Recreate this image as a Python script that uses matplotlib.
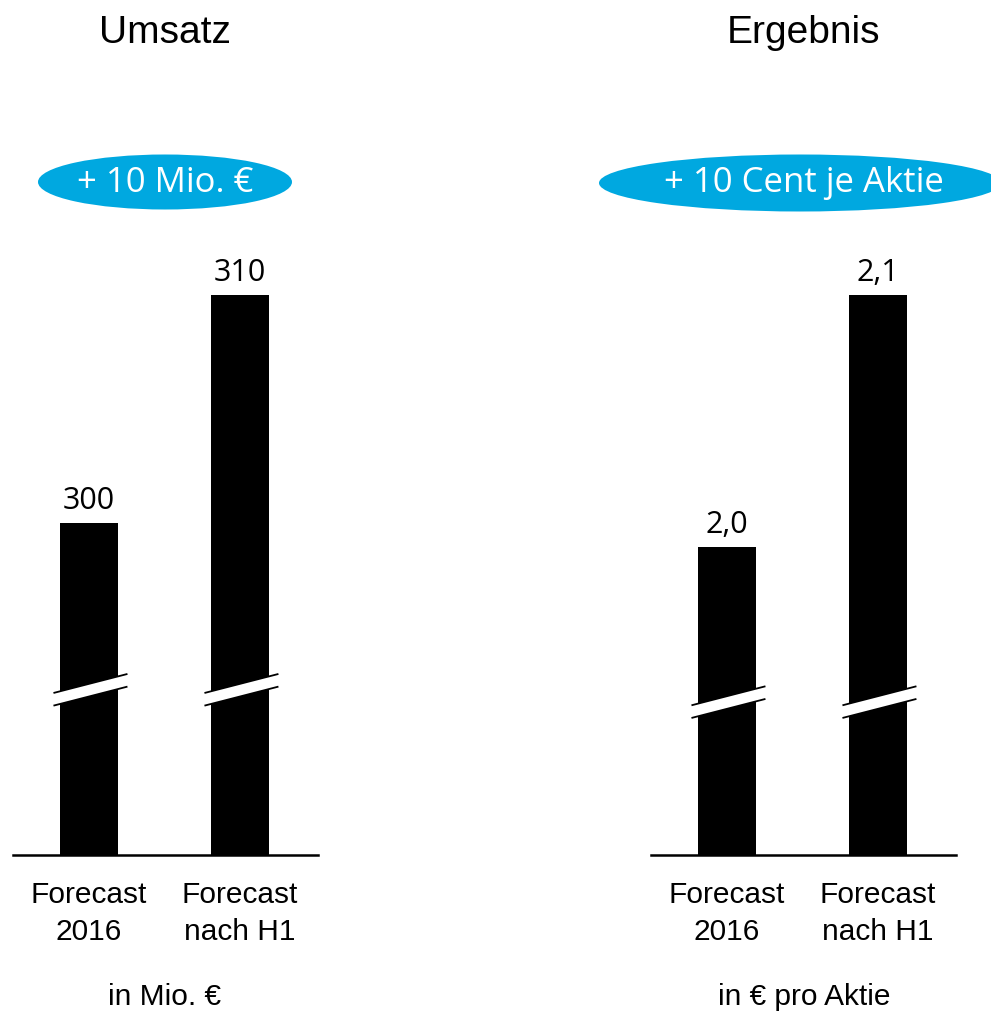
import matplotlib
matplotlib.use("Agg")
import matplotlib.pyplot as plt
from matplotlib.patches import Ellipse, Polygon
from matplotlib.transforms import blended_transform_factory

# ---- data ----
categories = ["Forecast\n2016", "Forecast\nnach H1"]
umsatz_values = [300, 310]
umsatz_labels = ["300", "310"]
ergebnis_values = [2.0, 2.1]
ergebnis_labels = ["2,0", "2,1"]
titles = ["Umsatz", "Ergebnis"]
badges = ["+ 10 Mio. \u20ac", "+ 10 Cent je Aktie"]
units = ["in Mio. \u20ac", "in \u20ac pro Aktie"]

# ---- style ----
W, H = 991, 1013
NARROW = ["Liberation Sans Narrow", "Liberation Sans", "DejaVu Sans"]
ROUND = ["Open Sans", "DejaVu Sans"]
BLUE = "#00A8E0"

fig = plt.figure(figsize=(W / 100, H / 100), dpi=100)

def px_axes(x0, x1, ytop, ybot):
    return fig.add_axes([x0 / W, 1 - ybot / H, (x1 - x0) / W, (ybot - ytop) / H])

panels = [
    dict(x0=13, x1=318, vals=umsatz_values, labs=umsatz_labels,
         base=285.44, brk=0.295),
    dict(x0=651, x1=956, vals=ergebnis_values, labs=ergebnis_labels,
         base=1.8778, brk=0.273),
]

for i, p in enumerate(panels):
    ax = px_axes(p["x0"], p["x1"], 295, 855)
    xs = list(range(len(p["vals"])))
    heights = [v - p["base"] for v in p["vals"]]
    ax.bar(xs, heights, bottom=p["base"], width=0.384, color="black", zorder=2)
    ax.set_xlim(-0.503, 1.517)
    ax.set_ylim(p["base"], max(p["vals"]))
    for s in ["top", "left", "right"]:
        ax.spines[s].set_visible(False)
    ax.spines["bottom"].set_linewidth(1.8)
    ax.set_yticks([])
    ax.set_xticks(xs)
    ax.set_xticklabels(categories, fontsize=21.5, family=NARROW, linespacing=1.4)
    ax.tick_params(axis="x", length=0, pad=19)
    # value labels
    for x, v, lab in zip(xs, p["vals"], p["labs"]):
        ax.annotate(lab, (x, v), xytext=(0, 5), textcoords="offset points",
                    ha="center", va="bottom", fontsize=22, family=ROUND,
                    annotation_clip=False)
    # axis break marks
    tr = blended_transform_factory(ax.transData, ax.transAxes)
    c = p["brk"]
    hx, hr, ht = 0.245, 0.017, 0.0113
    for x in xs:
        x0, x1 = x - hx + 0.01, x + hx + 0.01
        pts = [(x0, c - hr - ht), (x1, c + hr - ht), (x1, c + hr + ht), (x0, c - hr + ht)]
        ax.add_patch(Polygon(pts, closed=True, facecolor="white", edgecolor="none",
                             transform=tr, zorder=3, clip_on=False))
        ax.plot([x0, x1], [c - hr - ht, c + hr - ht], color="black", lw=1.3,
                transform=tr, zorder=4, clip_on=False, solid_capstyle="butt")
        ax.plot([x0, x1], [c - hr + ht, c + hr + ht], color="black", lw=1.3,
                transform=tr, zorder=4, clip_on=False, solid_capstyle="butt")

# overlay for titles, badges and unit notes (pixel coordinates)
ov = fig.add_axes([0, 0, 1, 1], zorder=-1)
ov.set_xlim(0, W)
ov.set_ylim(H, 0)
ov.axis("off")

centers = [165, 804]
ov.text(centers[0], 43, titles[0], ha="center", va="baseline", fontsize=28, family=NARROW)
ov.text(centers[1], 43, titles[1], ha="center", va="baseline", fontsize=28, family=NARROW)

ov.add_patch(Ellipse((165, 182), 254, 55, facecolor=BLUE, edgecolor="none"))
ov.add_patch(Ellipse((800, 183), 402, 57, facecolor=BLUE, edgecolor="none"))
ov.text(165, 183, badges[0], ha="center", va="center", fontsize=25, family=ROUND, color="white")
ov.text(804, 183, badges[1], ha="center", va="center", fontsize=25, family=ROUND, color="white")

ov.text(centers[0], 1005, units[0], ha="center", va="baseline", fontsize=21.5, family=NARROW)
ov.text(centers[1], 1005, units[1], ha="center", va="baseline", fontsize=21.5, family=NARROW)

fig.savefig("out.png", dpi=100)
